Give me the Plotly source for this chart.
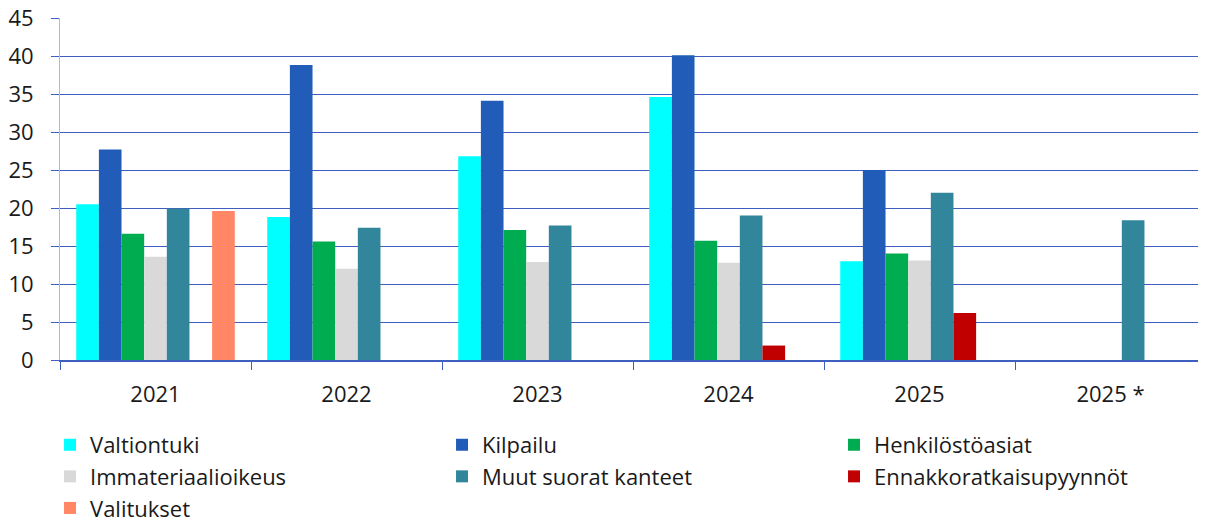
import plotly.graph_objects as go

# Categories (years)
years = ["2021", "2022", "2023", "2024", "2025", "2025 *"]

# Series values (None = no bar)
valtiontuki = [20.5, 18.8, 26.8, 34.6, 13.0, None]
kilpailu = [27.7, 38.8, 34.1, 40.1, 25.0, None]
henkilosto = [16.6, 15.6, 17.1, 15.7, 14.0, None]
immateriaali = [13.6, 12.0, 12.9, 12.8, 13.1, None]
muut_kanteet = [19.9, 17.4, 17.7, 19.0, 22.0, 18.4]
ennakko = [None, None, None, 1.9, 6.2, None]
valitukset = [19.6, None, None, None, None, None]

series = [
    ("Valtiontuki", valtiontuki, "#00FFFF"),
    ("Kilpailu", kilpailu, "#215DB8"),
    ("Henkilöstöasiat", henkilosto, "#00AC50"),
    ("Immateriaalioikeus", immateriaali, "#D9D9D9"),
    ("Muut suorat kanteet", muut_kanteet, "#31869C"),
    ("Ennakkoratkaisupyynnöt", ennakko, "#C00000"),
    ("Valitukset", valitukset, "#FF8766"),
]

grid_color = "#3F5FBF"

fig = go.Figure()
for name, vals, color in series:
    fig.add_trace(go.Bar(x=years, y=vals, name=name,
                         marker=dict(color=color, line=dict(width=0))))

# page body has an 8px margin, so the figure is shrunk by that amount
fig.update_layout(
    width=1198, height=517,
    barmode="group", bargap=0.17, bargroupgap=0,
    plot_bgcolor="white", paper_bgcolor="white",
    margin=dict(l=52, r=0, t=10, b=165, autoexpand=False),
    font=dict(family="Open Sans", size=22, color="#1a1a1a"),
    legend=dict(orientation="h", x=-0.0087, xanchor="left", y=-0.187, yanchor="top",
                entrywidth=347, font=dict(size=22), itemwidth=30,
                tracegroupgap=0),
)

fig.update_xaxes(
    showgrid=False, showline=True, linecolor=grid_color, linewidth=1.5,
    ticks="outside", tickson="boundaries", ticklen=8, tickcolor=grid_color,
    ticklabelstandoff=14,
)
fig.update_yaxes(
    range=[0, 45], dtick=5, showgrid=True, gridcolor=grid_color, gridwidth=1.3,
    showline=True, linecolor="#A8B8E8", linewidth=1,
    ticks="outside", ticklen=8, tickcolor=grid_color,
    ticklabelstandoff=13, zeroline=False, ticklabeloverflow="allow",
)

fig.write_html("out.html")
